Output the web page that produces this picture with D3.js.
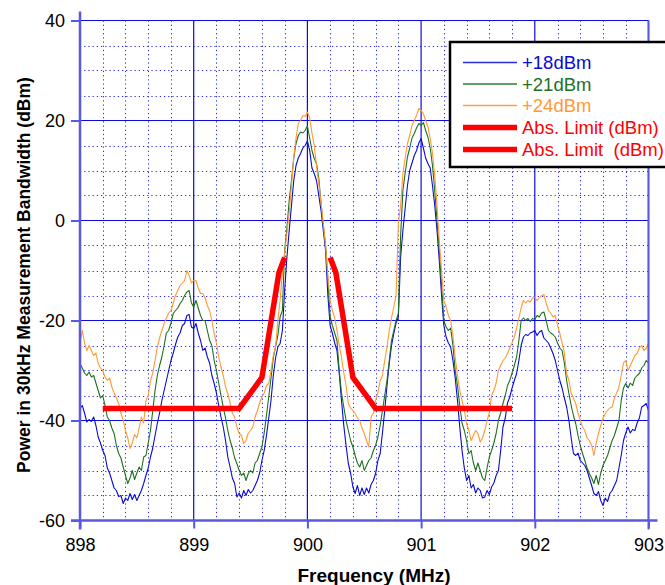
<!DOCTYPE html>
<html><head><meta charset="utf-8">
<script src="https://cdn.jsdelivr.net/npm/d3@7"></script>
<style>
html,body{margin:0;padding:0;background:#fff;overflow:hidden;width:665px;height:585px;}
svg{display:block;overflow:hidden;}
text{font-family:"Liberation Sans",Arial,sans-serif;}
</style></head>
<body><svg id="c" width="665" height="585"></svg>
<script>
// ---- data ----
const freqDomain = [898, 903];
const xTicks = [898, 899, 900, 901, 902, 903];
const yTicks = [-60, -40, -20, 0, 20, 40];
const seriesNames = ["+18dBm", "+21dBm", "+24dBm"];
// traces sampled every 0.02 MHz from 898 to 903
const p18 = [-37.6,-37.0,-38.5,-40.3,-39.8,-40.2,-39.3,-41.0,-43.3,-44.5,-46.0,-47.0,-49.5,-50.5,-52.0,-53.5,-54.0,-55.2,-55.0,-56.6,-55.5,-56.0,-54.6,-55.8,-54.8,-56.0,-55.0,-54.0,-52.6,-51.0,-49.5,-47.3,-45.5,-43.0,-40.6,-38.5,-36.0,-34.0,-32.0,-30.0,-28.0,-26.5,-24.8,-23.3,-22.5,-21.0,-20.6,-19.0,-18.8,-21.3,
-21.6,-20.6,-22.5,-24.0,-26.0,-25.5,-27.3,-28.5,-31.0,-32.6,-34.5,-37.0,-39.3,-41.3,-44.0,-47.3,-49.3,-51.5,-52.6,-55.3,-54.5,-55.5,-54.0,-55.0,-53.8,-54.5,-54.0,-53.0,-52.0,-50.5,-48.0,-46.0,-43.0,-39.5,-36.0,-31.0,-27.5,-25.3,-24.6,-22.0,-14.0,-7.3,-2.0,3.0,8.0,11.0,12.5,13.4,14.5,15.0,
15.9,14.0,10.5,9.4,8.0,5.0,2.0,-2.0,-6.0,-15.0,-21.0,-22.6,-24.5,-26.0,-30.6,-36.0,-41.0,-45.0,-48.6,-50.5,-53.3,-54.6,-53.0,-55.0,-53.5,-54.8,-53.5,-54.5,-52.8,-52.0,-50.6,-48.0,-46.6,-42.5,-38.0,-33.0,-28.6,-25.0,-22.6,-20.5,-19.3,-7.3,-2.0,2.5,7.0,10.0,11.5,13.0,14.0,15.5,
16.4,14.5,12.5,11.4,10.5,7.0,3.0,-2.0,-8.0,-15.0,-21.0,-23.3,-24.5,-25.3,-28.0,-31.5,-36.0,-41.3,-46.0,-49.5,-52.0,-51.0,-53.5,-52.8,-54.5,-53.5,-54.0,-55.5,-55.3,-54.0,-54.8,-53.3,-52.5,-51.0,-50.0,-46.0,-41.3,-39.5,-36.5,-35.3,-33.5,-32.0,-30.6,-28.0,-25.0,-23.3,-22.8,-23.0,-22.5,-22.3,
-22.0,-23.0,-22.3,-22.0,-23.5,-24.0,-24.5,-25.5,-26.6,-28.0,-30.0,-32.0,-33.5,-35.5,-37.3,-40.0,-43.5,-46.6,-47.0,-46.5,-48.0,-48.5,-49.0,-50.0,-51.5,-53.0,-54.6,-55.0,-54.2,-56.0,-57.0,-55.5,-56.2,-54.6,-54.0,-53.0,-52.0,-49.5,-47.0,-44.0,-42.5,-41.3,-42.5,-41.8,-42.0,-40.5,-39.5,-37.3,-37.0,-36.6,
-38.0];
const p21 = [-28.6,-29.5,-30.5,-31.0,-30.3,-31.3,-31.0,-32.5,-34.0,-35.5,-35.0,-37.0,-39.3,-40.0,-41.5,-42.6,-45.0,-46.6,-47.5,-49.3,-51.0,-52.6,-51.5,-50.0,-51.8,-50.5,-49.3,-50.0,-47.3,-47.0,-44.5,-42.0,-38.0,-34.0,-31.0,-29.0,-27.3,-25.0,-22.5,-22.0,-20.5,-18.6,-18.0,-17.5,-16.6,-16.0,-15.0,-14.3,-14.0,-16.5,
-17.3,-16.0,-17.5,-19.0,-20.0,-20.0,-22.0,-24.0,-25.0,-28.0,-30.0,-32.5,-35.0,-37.3,-39.5,-42.0,-44.0,-45.5,-47.5,-48.6,-50.0,-51.0,-50.5,-52.0,-50.6,-50.0,-50.5,-48.5,-48.0,-46.6,-45.3,-42.5,-39.0,-35.3,-31.5,-27.5,-25.3,-23.0,-19.3,-18.0,-6.0,-1.5,4.0,8.0,12.5,15.4,17.0,17.7,17.5,18.0,
18.9,16.5,14.0,12.4,11.4,8.5,3.4,-1.0,-5.0,-12.0,-19.3,-21.0,-22.5,-24.0,-30.0,-34.5,-37.3,-40.0,-42.0,-44.0,-45.3,-47.0,-48.5,-49.3,-48.0,-50.0,-49.0,-48.0,-47.5,-46.0,-45.0,-43.3,-41.0,-38.0,-35.0,-32.0,-28.0,-24.0,-22.0,-20.0,-18.6,-3.0,6.0,9.5,12.7,14.5,16.5,17.4,18.5,19.4,
19.0,19.6,18.0,16.7,14.5,11.0,6.0,0.0,-6.0,-13.0,-20.0,-21.3,-22.0,-21.5,-25.0,-30.0,-33.0,-37.0,-40.5,-42.0,-44.0,-46.6,-46.0,-48.5,-50.0,-48.5,-50.0,-51.5,-52.0,-49.5,-47.3,-46.0,-44.5,-42.6,-40.0,-38.5,-36.6,-35.0,-33.0,-32.0,-30.5,-29.0,-27.3,-24.0,-20.0,-19.5,-20.0,-19.6,-20.2,-19.6,
-19.8,-19.0,-19.3,-18.5,-18.3,-20.0,-22.0,-22.5,-22.8,-23.3,-24.5,-25.5,-26.0,-28.5,-32.0,-34.6,-37.0,-39.0,-40.6,-43.0,-45.0,-46.6,-48.0,-49.5,-50.6,-51.5,-52.6,-51.0,-52.8,-50.5,-49.0,-48.0,-47.0,-45.5,-44.0,-43.0,-41.5,-40.0,-36.0,-33.5,-32.6,-33.5,-32.5,-33.0,-31.5,-31.0,-30.6,-29.5,-29.0,-28.0,
-28.5];
const p24 = [-24.5,-22.0,-24.5,-26.0,-25.0,-26.0,-27.0,-26.5,-28.6,-29.5,-30.0,-31.3,-32.0,-31.5,-33.3,-34.5,-35.5,-36.6,-38.5,-40.0,-42.0,-43.5,-45.6,-44.5,-42.8,-43.5,-41.5,-39.3,-40.5,-36.0,-35.0,-32.0,-30.5,-28.0,-25.3,-23.5,-22.0,-20.6,-19.5,-18.5,-18.0,-16.5,-15.0,-14.0,-13.0,-12.5,-12.0,-10.0,-11.0,-12.5,
-12.0,-12.0,-13.5,-14.6,-14.6,-15.5,-17.0,-18.0,-20.0,-22.6,-24.5,-27.3,-29.3,-31.0,-33.3,-34.6,-36.5,-38.5,-39.3,-41.3,-42.6,-43.0,-44.6,-44.0,-42.5,-42.0,-41.3,-39.3,-38.0,-36.5,-35.3,-34.5,-33.0,-32.6,-30.0,-27.0,-25.3,-20.0,-16.0,-10.5,-6.5,-2.5,1.5,7.0,12.7,16.5,19.4,20.0,21.0,20.8,
21.7,20.5,17.5,15.0,11.0,7.5,3.5,-0.6,-5.0,-11.0,-16.0,-18.0,-19.5,-22.0,-25.0,-27.3,-30.5,-33.0,-36.6,-37.5,-38.0,-38.6,-39.5,-40.0,-41.5,-42.6,-44.0,-45.3,-39.3,-38.5,-36.0,-34.5,-32.0,-31.0,-28.0,-25.3,-22.0,-19.5,-17.3,-15.0,-0.6,3.0,9.4,12.5,15.4,17.0,19.0,20.0,21.0,22.4,
22.0,21.4,20.0,18.7,16.5,13.5,9.0,3.0,-4.0,-10.0,-16.0,-17.3,-19.0,-20.0,-23.0,-27.5,-31.0,-34.0,-36.0,-38.0,-40.6,-42.0,-44.0,-43.0,-42.0,-42.6,-44.3,-43.5,-42.0,-40.0,-38.5,-35.0,-34.0,-32.5,-30.0,-29.0,-28.0,-27.5,-26.6,-25.5,-24.5,-23.3,-21.5,-19.5,-17.5,-16.0,-16.5,-16.0,-16.3,-15.5,
-15.3,-16.0,-15.5,-15.0,-14.8,-16.5,-18.0,-18.5,-19.3,-19.0,-21.0,-22.6,-24.5,-26.5,-30.6,-32.0,-34.5,-35.5,-36.6,-38.5,-40.0,-41.3,-42.0,-43.5,-44.0,-45.0,-47.0,-44.5,-42.6,-41.0,-39.5,-38.6,-38.0,-37.5,-37.3,-35.5,-34.5,-33.3,-31.0,-28.5,-28.0,-30.0,-29.0,-28.0,-27.0,-26.6,-25.5,-25.0,-26.0,-25.6,
-24.5];
const limitLeft = [[898.2,-37.6],[899.4,-37.6],[899.6,-31.4],[899.75,-10.4],[899.8,-7.4]];
const limitRight = [[900.2,-7.4],[900.25,-10.4],[900.4,-31.4],[900.6,-37.6],[901.8,-37.6]];
const legendNames = ["+18dBm","+21dBm","+24dBm","Abs. Limit (dBm)","Abs. Limit  (dBm)"];

// ---- drawing ----
const svg = d3.select("#c");
const L = 80, R = 648.5, T = 20.5, B = 520.5;
const x = d3.scaleLinear().domain(freqDomain).range([L, R]);
const y = d3.scaleLinear().domain([-60, 40]).range([B, T]);

svg.append("defs").append("clipPath").attr("id","clip")
  .append("rect").attr("x",L).attr("y",T).attr("width",R-L).attr("height",B-T);

const grid = svg.append("g");
// minor dotted
const minorX = d3.range(0, 26).map(i => 898 + i*0.2).filter((v,i) => i % 5 !== 0);
const minorY = d3.range(0, 21).map(i => -60 + i*5).filter((v,i) => i % 4 !== 0);
grid.selectAll(".mx").data(minorX).join("line")
  .attr("x1", d => Math.round(x(d))+0.5).attr("x2", d => Math.round(x(d))+0.5)
  .attr("y1", T).attr("y2", B)
  .attr("stroke","#2424e6").attr("stroke-width",1).attr("stroke-dasharray","1.2,3");
grid.selectAll(".my").data(minorY).join("line")
  .attr("y1", d => Math.round(y(d))+0.5).attr("y2", d => Math.round(y(d))+0.5)
  .attr("x1", L).attr("x2", R)
  .attr("stroke","#2424e6").attr("stroke-width",1).attr("stroke-dasharray","1.2,3");
// major solid
grid.selectAll(".Mx").data(xTicks).join("line")
  .attr("x1", d => x(d)).attr("x2", d => x(d)).attr("y1", T).attr("y2", B)
  .attr("stroke","#0c0cdc").attr("stroke-width",1.2);
grid.selectAll(".My").data(yTicks).join("line")
  .attr("y1", d => y(d)).attr("y2", d => y(d)).attr("x1", L).attr("x2", R)
  .attr("stroke","#0c0cdc").attr("stroke-width",1.2);

// traces
const colors = ["#0a0ad0", "#1f6f1f", "#ff9933"];
const series = [p18, p21, p24];
const line = d3.line().x(d => x(d[0])).y(d => y(d[1]));
const plot = svg.append("g").attr("clip-path","url(#clip)");
series.forEach((vals, si) => {
  const step = (freqDomain[1]-freqDomain[0])/(vals.length-1);
  const pts = vals.map((v,i) => [freqDomain[0] + i*step, v]);
  plot.append("path").datum(pts).attr("d", line)
    .attr("fill","none").attr("stroke", colors[si]).attr("stroke-width",1.1)
    .attr("stroke-linejoin","round");
});
[limitLeft, limitRight].forEach(ld => {
  plot.append("path").datum(ld).attr("d", line)
    .attr("fill","none").attr("stroke","#ff0000").attr("stroke-width",5.5)
    .attr("stroke-linejoin","miter");
});

// axes
const axCol = "#5858e0";
const fmt = d => String(d);
const yAxis = svg.append("g").attr("transform",`translate(${L},0)`)
  .call(d3.axisLeft(y).tickValues(yTicks).tickFormat(fmt).tickSize(9).tickPadding(6).tickSizeOuter(0));
const xAxis = svg.append("g").attr("transform",`translate(0,${B})`)
  .call(d3.axisBottom(x).tickValues(xTicks).tickFormat(fmt).tickSize(8).tickPadding(10).tickSizeOuter(0));
[yAxis, xAxis].forEach(a => {
  a.select(".domain").attr("stroke", axCol).attr("stroke-width", 2.5);
  a.selectAll(".tick line").attr("stroke", axCol).attr("stroke-width", 2);
  a.selectAll(".tick text").attr("fill","#000").style("font-size","18px")
    .style("font-family",'"Liberation Sans",Arial,sans-serif');
});
xAxis.select(".domain").attr("d", `M${L-9},0H${R+9}`);
yAxis.select(".domain").attr("d", `M0,${T-9}V${B+9}`);
// right frame line
svg.append("line").attr("x1",R).attr("x2",R).attr("y1",T).attr("y2",B+9)
  .attr("stroke",axCol).attr("stroke-width",2);

// axis titles
svg.append("text").attr("x", 374).attr("y", 582).attr("text-anchor","middle")
  .style("font-size","19px").style("font-weight","bold").text("Frequency (MHz)");
svg.append("text").attr("transform","translate(30,275) rotate(-90)").attr("text-anchor","middle")
  .style("font-size","17.5px").style("font-weight","bold").text("Power in 30kHz Measurement Bandwidth (dBm)");

// legend (box runs off the right edge, as in the reference)
const lg = svg.append("g");
lg.append("rect").attr("x",450).attr("y",42).attr("width",215).attr("height",125)
  .attr("fill","#fff").attr("stroke","none");
lg.append("path").attr("d","M665,42H450V167H665")
  .attr("fill","none").attr("stroke","#000").attr("stroke-width",2.5);
const legCols = ["#2a2ae0","#2f7f2f","#ffa040","#ff0000","#ff0000"];
const textCols = ["#0a0ad0","#1f6f1f","#ff9933","#ff0000","#ff0000"];
const legW = [1.3,1.3,1.3,5.5,5.5];
const rowY = [62.5, 84, 105.5, 127.5, 149.5];
legendNames.forEach((n,i) => {
  lg.append("line").attr("x1",463).attr("x2",517).attr("y1",rowY[i]).attr("y2",rowY[i])
    .attr("stroke",legCols[i]).attr("stroke-width",legW[i]);
  lg.append("text").attr("x",522).attr("y",rowY[i]).attr("dy","0.36em")
    .style("font-size","18.5px").style("white-space","pre").attr("fill",textCols[i]).text(n);
});
</script>
</body></html>
